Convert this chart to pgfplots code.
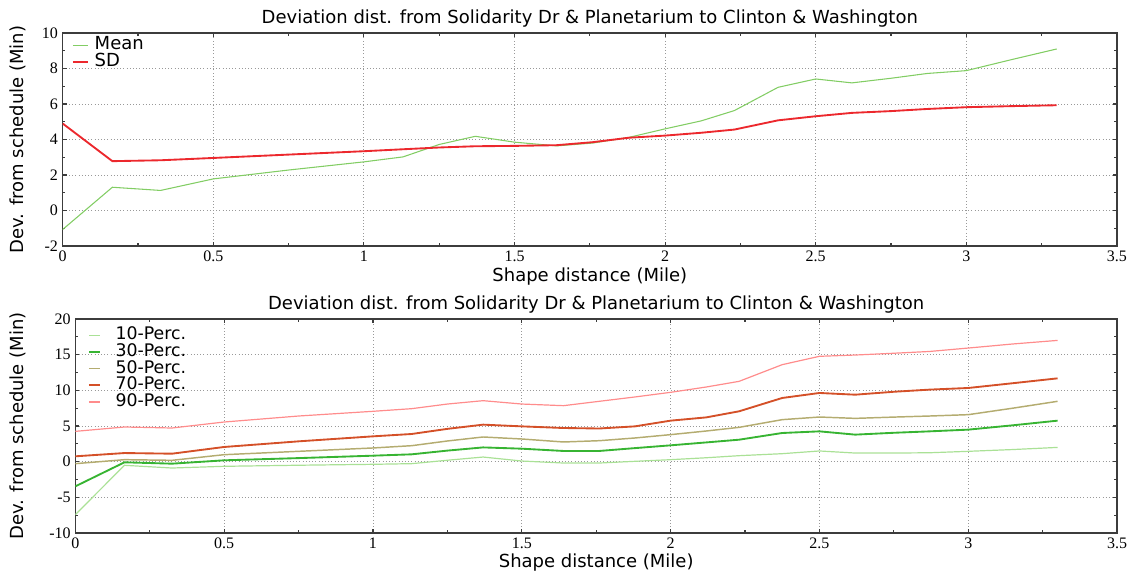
\documentclass[border=0pt]{standalone}
\usepackage{fontspec}
\setmainfont{DejaVu Sans}
\newfontfamily\tickfont{Liberation Serif}
\usepackage{pgfplots}
\usepackage{pgfplotstable}
\pgfplotsset{compat=1.18}

\definecolor{cmean}{RGB}{130,205,100}
\definecolor{csd}{RGB}{236,40,45}
\definecolor{cp10}{RGB}{170,225,150}
\definecolor{cp30}{RGB}{55,180,50}
\definecolor{cp50}{RGB}{180,172,112}
\definecolor{cp70}{RGB}{212,80,40}
\definecolor{cp90}{RGB}{255,140,140}
\definecolor{frame}{RGB}{60,60,60}

\pgfplotstableread{
x mean sd
0 -1.07 4.90
0.165 1.31 2.78
0.325 1.13 2.83
0.5 1.78 2.96
0.75 2.28 3.15
1.0 2.74 3.34
1.13 3.02 3.45
1.25 3.72 3.55
1.37 4.18 3.62
1.5 3.85 3.64
1.64 3.64 3.68
1.76 3.80 3.85
1.88 4.12 4.10
2.0 4.60 4.22
2.12 5.05 4.38
2.23 5.63 4.56
2.375 6.94 5.08
2.5 7.41 5.31
2.62 7.19 5.50
2.75 7.45 5.60
2.87 7.72 5.72
3.0 7.88 5.82
3.15 8.50 5.88
3.3 9.10 5.93
}\topdata

\pgfplotstableread{
x p10 p30 p50 p70 p90
0 -7.43 -3.46 -0.28 0.75 4.25
0.165 -0.51 -0.09 0.28 1.21 4.86
0.325 -0.89 -0.28 0.19 1.12 4.72
0.5 -0.65 0.19 0.98 2.06 5.56
0.75 -0.50 0.50 1.45 2.85 6.40
1.0 -0.37 0.84 1.92 3.55 7.06
1.13 -0.28 1.03 2.24 3.88 7.43
1.25 0.20 1.55 2.90 4.60 8.08
1.37 0.65 2.00 3.46 5.19 8.55
1.5 0.09 1.82 3.18 4.95 8.08
1.64 -0.19 1.50 2.76 4.72 7.85
1.76 -0.19 1.50 2.94 4.65 8.46
1.88 0.05 1.90 3.32 4.95 9.07
2.0 0.28 2.29 3.79 5.75 9.72
2.12 0.55 2.70 4.30 6.21 10.47
2.23 0.84 3.08 4.81 7.06 11.26
2.375 1.12 4.02 5.89 8.93 13.60
2.5 1.50 4.25 6.26 9.63 14.77
2.62 1.21 3.79 6.07 9.39 14.95
2.75 1.21 4.05 6.25 9.80 15.20
2.87 1.25 4.25 6.40 10.10 15.45
3.0 1.45 4.49 6.59 10.33 15.93
3.15 1.70 5.10 7.50 11.00 16.50
3.3 2.00 5.75 8.46 11.68 17.00
}\botdata

\newcommand\lbl{\fontsize{13.5pt}{15pt}\selectfont}
\newcommand\tck{\fontsize{12pt}{14pt}\selectfont}

\pgfplotsset{
  myaxis/.style={
    scale only axis, anchor=north west,
    xmin=0, xmax=3.5, xtick={0,0.5,...,3.5},
    minor x tick num=1, minor y tick num=1,
    tick align=inside,
    major tick length=3pt, minor tick length=2pt,
    grid=major,
    major grid style={dotted, line width=0.6pt, black!40},
    axis line style={frame, line width=0.9pt},
    every tick/.style={frame, line width=0.8pt},
    tick label style={font=\tickfont\tck},
    /pgf/number format/assume math mode=true,
    label style={font=\lbl},
    title style={font=\lbl, at={(axis description cs:0.5,1)}, anchor=center, yshift=5pt},
    title={Deviation dist. from Solidarity Dr \& Planetarium to Clinton \& Washington},
    xlabel={Shape distance (Mile)},
    ylabel={Dev. from schedule (Min)},
    legend cell align=left,
    legend style={draw=none, fill=none, anchor=north west, inner sep=0pt,
      font=\lbl, row sep=0pt,
      nodes={inner xsep=1pt, inner ysep=0.3pt, text height=9.5pt, text depth=2.6pt}},
  }
}

\begin{document}
\begin{tikzpicture}
\path[use as bounding box] (0,0) rectangle (848.25pt,-433.5pt);

\begin{axis}[myaxis,
  at={(47.0pt,-24.75pt)}, width=790.7pt, height=159.75pt,
  ymin=-2, ymax=10, ytick={-2,0,...,10},
  xlabel style={at={(axis description cs:0.5,-0.1455)}, anchor=center},
  ylabel style={at={(axis description cs:-0.0424,0.5)}, anchor=center},
  legend style={at={(axis description cs:0,1)}, xshift=6.7pt, yshift=-2.5pt,
    /tikz/every odd column/.append style={column sep=3.5pt}},
  legend image code/.code={\draw[#1] (0pt,0pt) -- (11.25pt,0pt);},
]
\addplot[cmean, line width=0.8pt] table[x=x, y=mean] {\topdata};
\addlegendentry{Mean}
\addplot[csd, line width=1.4pt] table[x=x, y=sd] {\topdata};
\addlegendentry{SD}
\end{axis}

\begin{axis}[myaxis,
  at={(56.5pt,-239.25pt)}, width=781.3pt, height=160.5pt,
  ymin=-10, ymax=20, ytick={-10,-5,...,20},
  xlabel style={at={(axis description cs:0.5,-0.140)}, anchor=center},
  ylabel style={at={(axis description cs:-0.055,0.5)}, anchor=center},
  legend style={at={(axis description cs:0,1)}, xshift=9.3pt, yshift=-5.8pt,
    font=\fontsize{13pt}{15pt}\selectfont,
    nodes={inner ysep=0.1pt, text height=9.5pt, text depth=2.8pt},
    /tikz/every odd column/.append style={column sep=10pt}},
  legend image code/.code={\draw[#1] (0pt,0pt) -- (8.25pt,0pt);},
]
\addplot[cp10, line width=0.9pt] table[x=x, y=p10] {\botdata};
\addlegendentry{10-Perc.}
\addplot[cp30, line width=1.4pt] table[x=x, y=p30] {\botdata};
\addlegendentry{30-Perc.}
\addplot[cp50, line width=1.1pt] table[x=x, y=p50] {\botdata};
\addlegendentry{50-Perc.}
\addplot[cp70, line width=1.4pt] table[x=x, y=p70] {\botdata};
\addlegendentry{70-Perc.}
\addplot[cp90, line width=0.9pt] table[x=x, y=p90] {\botdata};
\addlegendentry{90-Perc.}
\end{axis}
\end{tikzpicture}
\end{document}
